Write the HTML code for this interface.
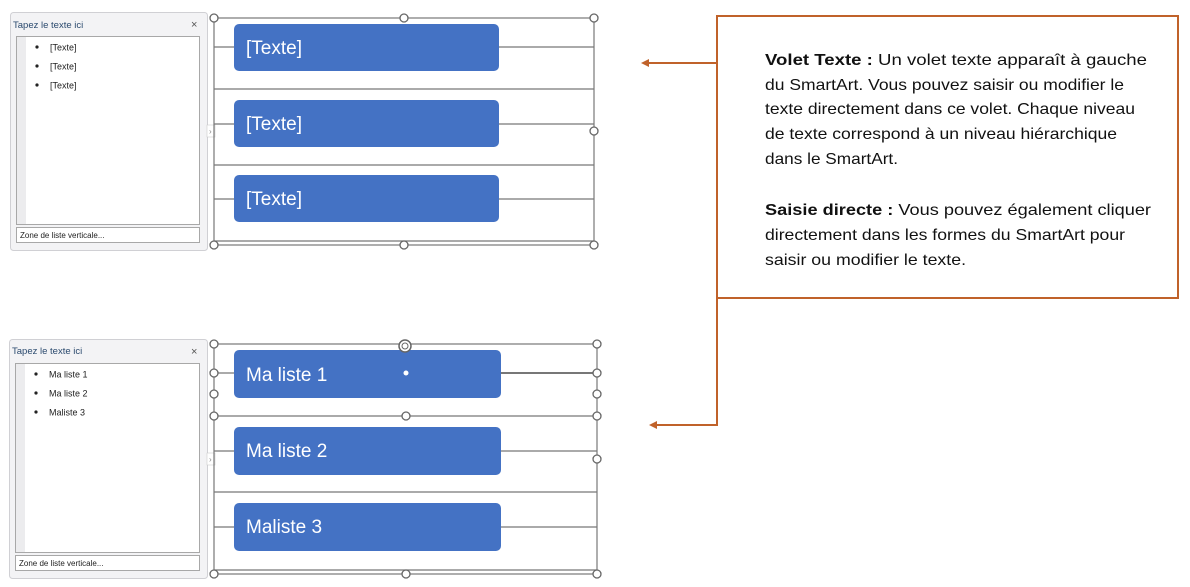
<!DOCTYPE html>
<html><head><meta charset="utf-8"><style>
html,body{margin:0;padding:0;background:#fff;}
svg{display:block;}
</style></head><body>
<svg width="1190" height="587" viewBox="0 0 1190 587" xmlns="http://www.w3.org/2000/svg" font-family="Liberation Sans, sans-serif">
<defs>
<g id="h"><circle r="4" fill="#fff" stroke="#666" stroke-width="1.3"/></g>
</defs>
<!-- TOP PANEL -->
<rect x="10.5" y="12.5" width="197" height="238" rx="3" fill="#f3f3f5" stroke="#d0d0d4"/>
<text x="13" y="28" font-size="9.5" fill="#2b4a6e">Tapez le texte ici</text>
<text x="191" y="28" font-size="11" fill="#555">×</text>
<rect x="16.5" y="36.5" width="183" height="188" fill="#fff" stroke="#a8a8a8"/>
<rect x="17" y="37" width="9" height="187" fill="#ececee"/>
<g font-size="9" fill="#222">
<circle cx="37" cy="47" r="1.6" fill="#222"/><text x="50" y="50.5">[Texte]</text>
<circle cx="37" cy="66" r="1.6" fill="#222"/><text x="50" y="69.5">[Texte]</text>
<circle cx="37" cy="85" r="1.6" fill="#222"/><text x="50" y="88.5">[Texte]</text>
</g>
<rect x="16.5" y="227.5" width="183" height="15" fill="#fff" stroke="#a8a8a8"/>
<text x="20" y="238" font-size="8" fill="#222">Zone de liste verticale...</text>
<rect x="207" y="125" width="8" height="12" fill="#fff" stroke="#ccc" stroke-width="0.6"/>
<text x="209" y="134" font-size="8" fill="#888">›</text>

<!-- TOP SMARTART -->
<g stroke="#777" stroke-width="1.2" fill="none">
<rect x="214" y="18" width="380" height="227"/>
<line x1="214" y1="47" x2="234" y2="47"/><line x1="499" y1="47" x2="594" y2="47"/>
<line x1="214" y1="89" x2="594" y2="89"/>
<line x1="214" y1="124" x2="234" y2="124"/><line x1="499" y1="124" x2="594" y2="124"/>
<line x1="214" y1="165" x2="594" y2="165"/>
<line x1="214" y1="199" x2="234" y2="199"/><line x1="499" y1="199" x2="594" y2="199"/>
<line x1="214" y1="241" x2="594" y2="241"/>
</g>
<g fill="#4472c4">
<rect x="234" y="24" width="265" height="47" rx="5"/>
<rect x="234" y="100" width="265" height="47" rx="5"/>
<rect x="234" y="175" width="265" height="47" rx="5"/>
</g>
<g font-size="19" fill="#fff">
<text x="246" y="54">[Texte]</text>
<text x="246" y="130">[Texte]</text>
<text x="246" y="205">[Texte]</text>
</g>
<use href="#h" x="214" y="18"/><use href="#h" x="404" y="18"/><use href="#h" x="594" y="18"/>
<use href="#h" x="594" y="131"/>
<use href="#h" x="214" y="245"/><use href="#h" x="404" y="245"/><use href="#h" x="594" y="245"/>

<!-- BOTTOM PANEL -->
<rect x="9.5" y="339.5" width="198" height="239" rx="3" fill="#f3f3f5" stroke="#d0d0d4"/>
<text x="12" y="354" font-size="9.5" fill="#2b4a6e">Tapez le texte ici</text>
<text x="191" y="355" font-size="11" fill="#555">×</text>
<rect x="15.5" y="363.5" width="184" height="189" fill="#fff" stroke="#a8a8a8"/>
<rect x="16" y="364" width="9" height="188" fill="#ececee"/>
<g font-size="9" fill="#222">
<circle cx="36" cy="374" r="1.6" fill="#222"/><text x="49" y="377.5">Ma liste 1</text>
<circle cx="36" cy="393" r="1.6" fill="#222"/><text x="49" y="396.5">Ma liste 2</text>
<circle cx="36" cy="412" r="1.6" fill="#222"/><text x="49" y="415.5">Maliste 3</text>
</g>
<rect x="15.5" y="555.5" width="184" height="15" fill="#fff" stroke="#a8a8a8"/>
<text x="19" y="566" font-size="8" fill="#222">Zone de liste verticale...</text>
<rect x="207" y="453" width="8" height="12" fill="#fff" stroke="#ccc" stroke-width="0.6"/>
<text x="209" y="462" font-size="8" fill="#888">›</text>

<!-- BOTTOM SMARTART -->
<g stroke="#777" stroke-width="1.2" fill="none">
<rect x="214" y="344" width="383" height="230"/>
<line x1="214" y1="373" x2="234" y2="373"/><line x1="501" y1="373" x2="597" y2="373" stroke-width="2"/>
<line x1="214" y1="416" x2="597" y2="416"/>
<line x1="214" y1="451" x2="234" y2="451"/><line x1="501" y1="451" x2="597" y2="451"/>
<line x1="214" y1="492" x2="597" y2="492"/>
<line x1="214" y1="527" x2="234" y2="527"/><line x1="501" y1="527" x2="597" y2="527"/>
<line x1="214" y1="570" x2="597" y2="570"/>
</g>
<g fill="#4472c4">
<rect x="234" y="350" width="267" height="48" rx="5"/>
<rect x="234" y="427" width="267" height="48" rx="5"/>
<rect x="234" y="503" width="267" height="48" rx="5"/>
</g>
<g font-size="19" fill="#fff">
<text x="246" y="381">Ma liste 1</text>
<text x="246" y="457">Ma liste 2</text>
<text x="246" y="533">Maliste 3</text>
</g>
<circle cx="406" cy="373" r="2.5" fill="#fff"/>
<use href="#h" x="214" y="344"/><use href="#h" x="597" y="344"/>
<circle cx="405" cy="346" r="6" fill="#fff" stroke="#666" stroke-width="1.5"/><circle cx="405" cy="346" r="3" fill="#fff" stroke="#666"/>
<use href="#h" x="214" y="373"/><use href="#h" x="597" y="373"/>
<use href="#h" x="214" y="394"/><use href="#h" x="597" y="394"/>
<use href="#h" x="214" y="416"/><use href="#h" x="406" y="416"/><use href="#h" x="597" y="416"/>
<use href="#h" x="597" y="459"/>
<use href="#h" x="214" y="574"/><use href="#h" x="406" y="574"/><use href="#h" x="597" y="574"/>

<!-- CALLOUT -->
<rect x="717" y="16" width="461" height="282" fill="#fff" stroke="#c0622a" stroke-width="2"/>
<g stroke="#c0622a" stroke-width="2" fill="none">
<line x1="717" y1="63" x2="646" y2="63"/>
<polyline points="717,298 717,425 654,425"/>
</g>
<polygon points="641,63 649,59 649,67" fill="#c0622a"/>
<polygon points="649,425 657,421 657,429" fill="#c0622a"/>
<g font-size="16" fill="#111">
<text x="765" y="65" textLength="382" lengthAdjust="spacingAndGlyphs"><tspan font-weight="bold">Volet Texte :</tspan> Un volet texte apparaît à gauche</text>
<text x="765" y="90" textLength="359" lengthAdjust="spacingAndGlyphs">du SmartArt. Vous pouvez saisir ou modifier le</text>
<text x="765" y="114" textLength="370" lengthAdjust="spacingAndGlyphs">texte directement dans ce volet. Chaque niveau</text>
<text x="765" y="139" textLength="352" lengthAdjust="spacingAndGlyphs">de texte correspond à un niveau hiérarchique</text>
<text x="765" y="164" textLength="133" lengthAdjust="spacingAndGlyphs">dans le SmartArt.</text>
<text x="765" y="215" textLength="386" lengthAdjust="spacingAndGlyphs"><tspan font-weight="bold">Saisie directe :</tspan> Vous pouvez également cliquer</text>
<text x="765" y="240" textLength="360" lengthAdjust="spacingAndGlyphs">directement dans les formes du SmartArt pour</text>
<text x="765" y="265" textLength="201" lengthAdjust="spacingAndGlyphs">saisir ou modifier le texte.</text>
</g>
</svg>
</body></html>
